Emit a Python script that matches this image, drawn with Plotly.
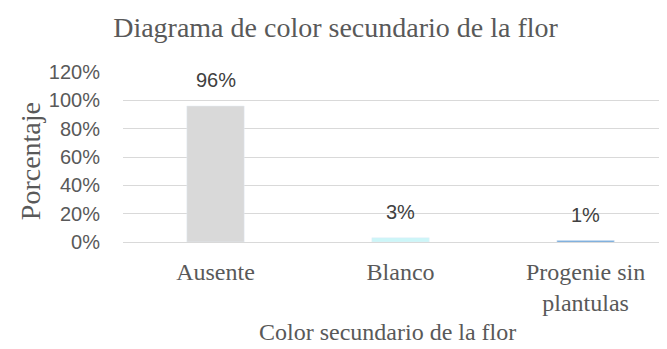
import plotly.graph_objects as go

categories = ["Ausente", "Blanco", "Progenie sin<br>plantulas"]
values = [96, 3, 1]
labels = ["96%", "3%", "1%"]
colors = ["#d9d9d9", "#ccf6f8", "#5b9bd5"]
y_ticks = [0, 20, 40, 60, 80, 100, 120]
y_ticktext = [f"{v}%" for v in y_ticks]

xs = list(range(len(categories)))
fig = go.Figure(go.Bar(x=xs, y=values, marker_color=colors, width=0.31))

for xi, v, t in zip(xs, values, labels):
    fig.add_annotation(x=xi, y=v, xref="x", yref="y", text=t, showarrow=False,
                       yanchor="middle", yshift=26,
                       font=dict(family="Liberation Sans, Arial", size=20, color="#404040"))

serif = "Liberation Serif, Times New Roman"
fig.add_annotation(x=(387.5 - 123) / 544, y=(241.7 - 332) / 169.7, xref="paper", yref="paper",
                   text="Color secundario de la flor", showarrow=False,
                   xanchor="center", yanchor="middle",
                   font=dict(family=serif, size=24, color="#595959"))
fig.add_annotation(x=(30 - 123) / 544, y=(241.7 - 161) / 169.7, xref="paper", yref="paper",
                   text="Porcentaje", showarrow=False, textangle=-90,
                   xanchor="center", yanchor="middle",
                   font=dict(family=serif, size=28, color="#595959"))

fig.update_layout(
    width=659, height=341, plot_bgcolor="white", paper_bgcolor="white",
    margin=dict(l=115, r=0, t=64, b=107, autoexpand=False),
    title=dict(text="Diagrama de color secundario de la flor", x=0.497, xanchor="center",
               y=1 - 19 / 341, yanchor="middle",
               font=dict(family=serif, size=28, color="#595959")),
    showlegend=False,
)
fig.update_xaxes(
    tickmode="array", tickvals=xs, ticktext=categories, automargin=False,
    range=[-0.5, 2.44], showgrid=False, showline=True, linecolor="#d9d9d9", linewidth=1,
    tickfont=dict(family=serif, size=24, color="#595959"),
    ticks="", ticklabelstandoff=8,
)
fig.update_yaxes(
    range=[0, 120], tickvals=y_ticks, ticktext=y_ticktext, showgrid=True, gridcolor="#d9d9d9",
    gridwidth=1, zeroline=False, automargin=False,
    tickfont=dict(family="Liberation Sans, Arial", size=20, color="#595959"),
    ticks="", ticklabelstandoff=22,
)
fig.write_html("out.html")
